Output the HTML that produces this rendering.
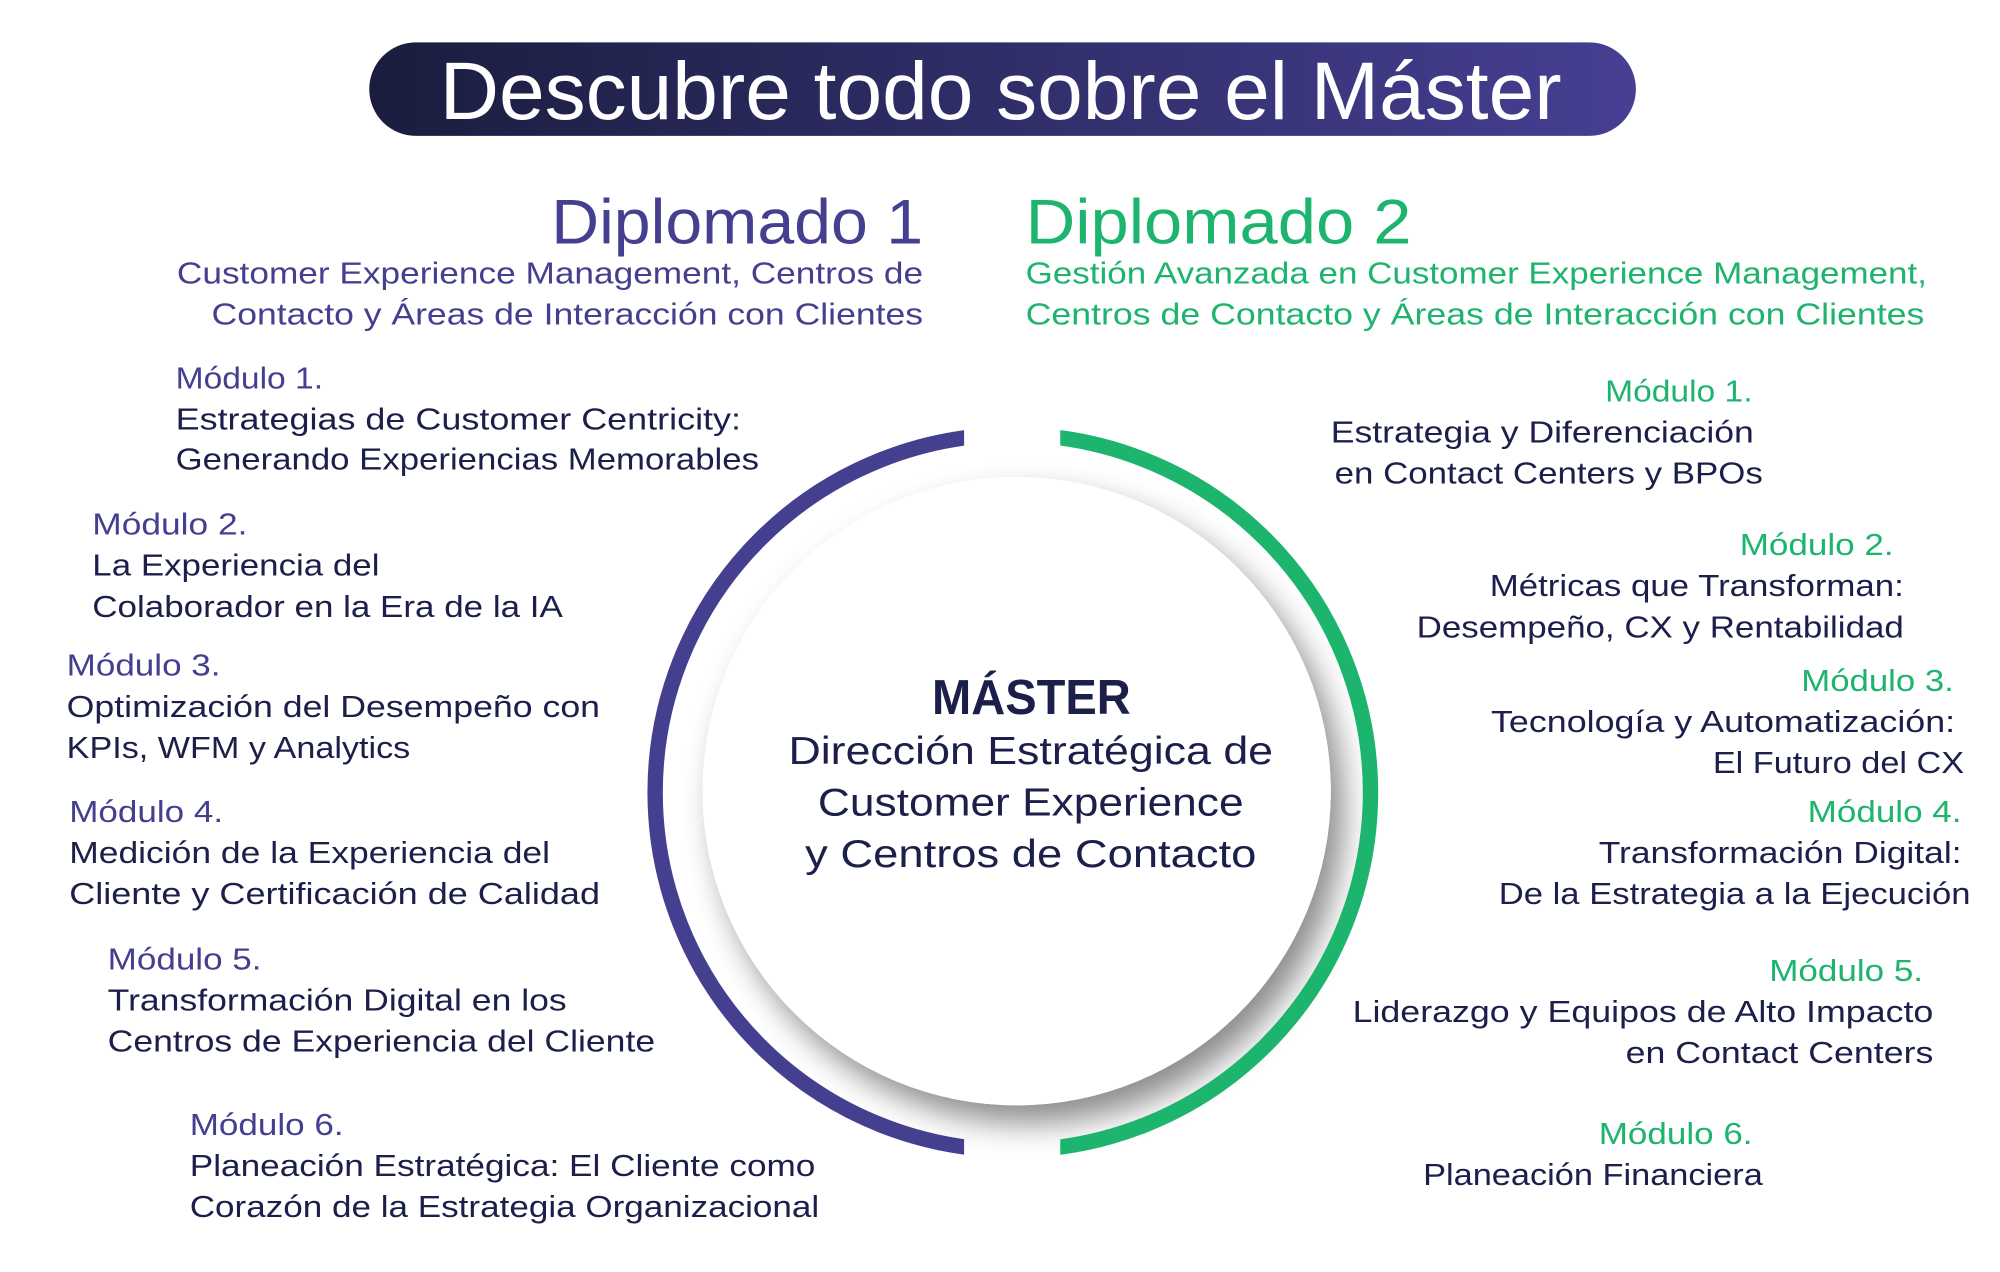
<!DOCTYPE html>
<html><head><meta charset="utf-8"><style>
html,body{margin:0;padding:0;background:#fff}
svg{display:block}
text{font-family:"Liberation Sans",sans-serif}
.p{fill:#453f8f}.g{fill:#1db46e}.d{fill:#1b1f4a}
.s{font-size:24px}
</style></head><body>
<svg width="2000" height="1272" viewBox="0 0 1560 992" preserveAspectRatio="none" xmlns="http://www.w3.org/2000/svg">
<defs>
<linearGradient id="tg" x1="0" x2="1" y1="0" y2="0"><stop offset="0" stop-color="#1a1d3e"/><stop offset="1" stop-color="#463f93"/></linearGradient>
<filter id="sh" x="-20%" y="-20%" width="150%" height="150%"><feDropShadow dx="10" dy="14" stdDeviation="12" flood-color="#000" flood-opacity="0.45"/></filter>
<clipPath id="cl"><rect x="0" y="0" width="752" height="992"/></clipPath>
<clipPath id="cr"><rect x="827" y="0" width="800" height="992"/></clipPath>
</defs>
<rect x="288" y="33" width="988" height="73" rx="36.5" fill="url(#tg)"/>
<text x="343" y="93" fill="#fff" font-size="64" textLength="875" lengthAdjust="spacingAndGlyphs">Descubre todo sobre el Máster</text>

<text class="p" x="430" y="190" font-size="49" textLength="290" lengthAdjust="spacingAndGlyphs">Diplomado 1</text>
<text class="p s" x="138" y="221" textLength="582" lengthAdjust="spacingAndGlyphs">Customer Experience Management, Centros de</text>
<text class="p s" x="165" y="253" textLength="555" lengthAdjust="spacingAndGlyphs">Contacto y Áreas de Interacción con Clientes</text>
<text class="g" x="800" y="190" font-size="49" textLength="301" lengthAdjust="spacingAndGlyphs">Diplomado 2</text>
<text class="g s" x="800" y="221" textLength="703" lengthAdjust="spacingAndGlyphs">Gestión Avanzada en Customer Experience Management,</text>
<text class="g s" x="800" y="253" textLength="701" lengthAdjust="spacingAndGlyphs">Centros de Contacto y Áreas de Interacción con Clientes</text>

<circle cx="793" cy="617" r="245" fill="#fff" filter="url(#sh)"/>
<circle cx="793" cy="617" r="245" fill="#fff"/>
<circle cx="790" cy="618" r="279" fill="none" stroke="#453f8f" stroke-width="12" clip-path="url(#cl)"/>
<circle cx="790" cy="618" r="279" fill="none" stroke="#1db46e" stroke-width="12" clip-path="url(#cr)"/>

<text class="d" x="727" y="557" font-size="38" font-weight="bold" textLength="155" lengthAdjust="spacingAndGlyphs">MÁSTER</text>
<text class="d" x="615" y="596" font-size="30" textLength="378" lengthAdjust="spacingAndGlyphs">Dirección Estratégica de</text>
<text class="d" x="638" y="636" font-size="30" textLength="332" lengthAdjust="spacingAndGlyphs">Customer Experience</text>
<text class="d" x="628" y="676" font-size="30" textLength="352" lengthAdjust="spacingAndGlyphs">y Centros de Contacto</text>

<g class="s">
<text class="p" x="137" y="303" textLength="115" lengthAdjust="spacingAndGlyphs">Módulo 1.</text>
<text class="d" x="137" y="335" textLength="441" lengthAdjust="spacingAndGlyphs">Estrategias de Customer Centricity:</text>
<text class="d" x="137" y="366" textLength="455" lengthAdjust="spacingAndGlyphs">Generando Experiencias Memorables</text>

<text class="p" x="72" y="417" textLength="121" lengthAdjust="spacingAndGlyphs">Módulo 2.</text>
<text class="d" x="72" y="449" textLength="224" lengthAdjust="spacingAndGlyphs">La Experiencia del</text>
<text class="d" x="72" y="481" textLength="367" lengthAdjust="spacingAndGlyphs">Colaborador en la Era de la IA</text>

<text class="p" x="52" y="527" textLength="120" lengthAdjust="spacingAndGlyphs">Módulo 3.</text>
<text class="d" x="52" y="559" textLength="416" lengthAdjust="spacingAndGlyphs">Optimización del Desempeño con</text>
<text class="d" x="52" y="591" textLength="268" lengthAdjust="spacingAndGlyphs">KPIs, WFM y Analytics</text>

<text class="p" x="54" y="641" textLength="120" lengthAdjust="spacingAndGlyphs">Módulo 4.</text>
<text class="d" x="54" y="673" textLength="375" lengthAdjust="spacingAndGlyphs">Medición de la Experiencia del</text>
<text class="d" x="54" y="705" textLength="414" lengthAdjust="spacingAndGlyphs">Cliente y Certificación de Calidad</text>

<text class="p" x="84" y="756" textLength="120" lengthAdjust="spacingAndGlyphs">Módulo 5.</text>
<text class="d" x="84" y="788" textLength="358" lengthAdjust="spacingAndGlyphs">Transformación Digital en los</text>
<text class="d" x="84" y="820" textLength="427" lengthAdjust="spacingAndGlyphs">Centros de Experiencia del Cliente</text>

<text class="p" x="148" y="885" textLength="120" lengthAdjust="spacingAndGlyphs">Módulo 6.</text>
<text class="d" x="148" y="917" textLength="488" lengthAdjust="spacingAndGlyphs">Planeación Estratégica: El Cliente como</text>
<text class="d" x="148" y="949" textLength="491" lengthAdjust="spacingAndGlyphs">Corazón de la Estrategia Organizacional</text>

<text class="g" x="1252" y="313" textLength="115" lengthAdjust="spacingAndGlyphs">Módulo 1.</text>
<text class="d" x="1038" y="345" textLength="330" lengthAdjust="spacingAndGlyphs">Estrategia y Diferenciación</text>
<text class="d" x="1041" y="377" textLength="334" lengthAdjust="spacingAndGlyphs">en Contact Centers y BPOs</text>

<text class="g" x="1357" y="433" textLength="120" lengthAdjust="spacingAndGlyphs">Módulo 2.</text>
<text class="d" x="1162" y="465" textLength="323" lengthAdjust="spacingAndGlyphs">Métricas que Transforman:</text>
<text class="d" x="1105" y="497" textLength="380" lengthAdjust="spacingAndGlyphs">Desempeño, CX y Rentabilidad</text>

<text class="g" x="1405" y="539" textLength="119" lengthAdjust="spacingAndGlyphs">Módulo 3.</text>
<text class="d" x="1163" y="571" textLength="362" lengthAdjust="spacingAndGlyphs">Tecnología y Automatización:</text>
<text class="d" x="1336" y="603" textLength="196" lengthAdjust="spacingAndGlyphs">El Futuro del CX</text>

<text class="g" x="1410" y="641" textLength="120" lengthAdjust="spacingAndGlyphs">Módulo 4.</text>
<text class="d" x="1247" y="673" textLength="283" lengthAdjust="spacingAndGlyphs">Transformación Digital:</text>
<text class="d" x="1169" y="705" textLength="368" lengthAdjust="spacingAndGlyphs">De la Estrategia a la Ejecución</text>

<text class="g" x="1380" y="765" textLength="120" lengthAdjust="spacingAndGlyphs">Módulo 5.</text>
<text class="d" x="1055" y="797" textLength="453" lengthAdjust="spacingAndGlyphs">Liderazgo y Equipos de Alto Impacto</text>
<text class="d" x="1268" y="829" textLength="240" lengthAdjust="spacingAndGlyphs">en Contact Centers</text>

<text class="g" x="1247" y="892" textLength="120" lengthAdjust="spacingAndGlyphs">Módulo 6.</text>
<text class="d" x="1110" y="924" textLength="265" lengthAdjust="spacingAndGlyphs">Planeación Financiera</text>
</g>
</svg>
</body></html>
